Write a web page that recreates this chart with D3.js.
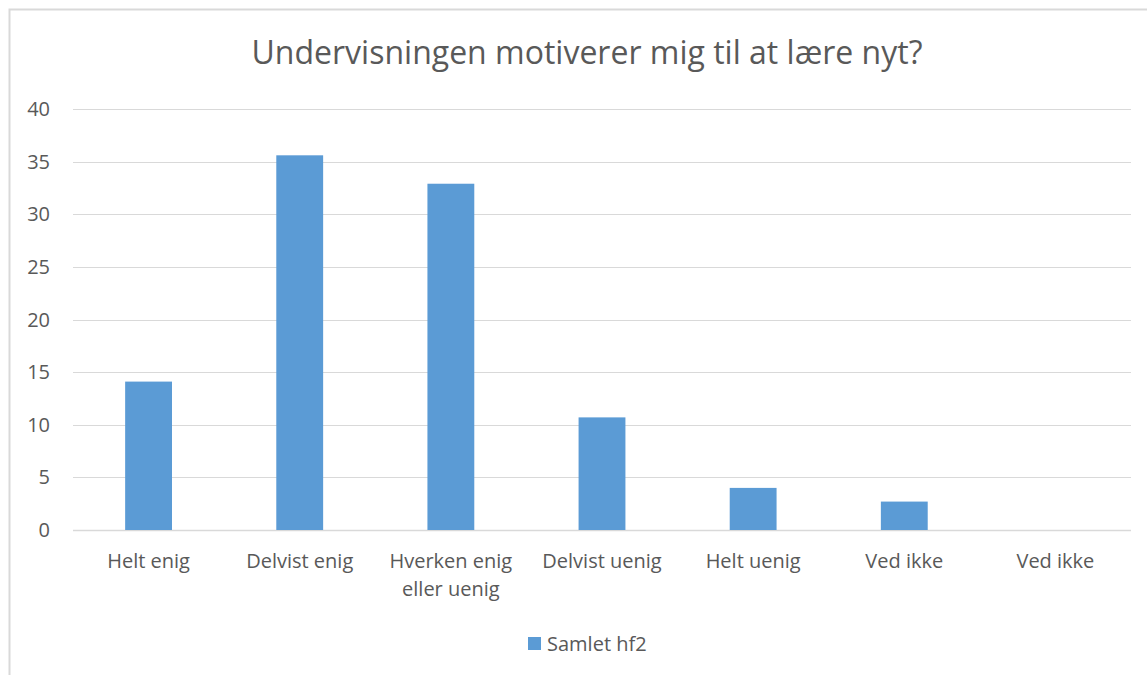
<!DOCTYPE html>
<html>
<head>
<meta charset="utf-8">
<script src="https://cdn.jsdelivr.net/npm/d3@7"></script>
<style>
  body { margin: 0; background: #fff; }
  text { font-family: "Open Sans", sans-serif; fill: #595959; }
</style>
</head>
<body>
<div id="chart"></div>
<script>
let categories = ["Helt enig", "Delvist enig", "Hverken enig eller uenig", "Delvist uenig", "Helt uenig", "Ved ikke", "Ved ikke"]
let values = [14.1, 35.6, 32.9, 10.7, 4.0, 2.7, 0]
let y_ticks = [0, 5, 10, 15, 20, 25, 30, 35, 40]
let series_name = "Samlet hf2"
let title = "Undervisningen motiverer mig til at lære nyt?"

let width = 1147
let height = 675
let bar_color = "#5B9BD5"
let grid_color = "#D9D9D9"

let svg = d3.select("#chart").append("svg")
    .attr("width", width)
    .attr("height", height)

// chart frame (runs off the right and bottom edge like the screenshot)
svg.append("rect")
    .attr("x", 9.5)
    .attr("y", 9.5)
    .attr("width", width + 20)
    .attr("height", height + 20)
    .style("fill", "none")
    .style("stroke", grid_color)
    .style("stroke-width", 2)

svg.append("text")
    .attr("x", 587)
    .attr("y", 64)
    .attr("text-anchor", "middle")
    .style("font-size", "32px")
    .text(title)

let x = d3.scaleBand()
    .domain(d3.range(categories.length))
    .range([73, 1131])
    .paddingInner(0.69)
    .paddingOuter(0.345)

let y = d3.scaleLinear()
    .domain([0, 40])
    .range([530, 109])

// gridlines
svg.selectAll(".grid")
    .data(y_ticks)
    .enter().append("line")
    .attr("class", "grid")
    .attr("x1", 73)
    .attr("x2", 1131)
    .attr("y1", (d) => Math.round(y(d)) + 0.5)
    .attr("y2", (d) => Math.round(y(d)) + 0.5)
    .style("stroke", grid_color)
    .style("stroke-width", (d) => d == 0 ? 1.5 : 1)

// y labels
svg.selectAll(".ylab")
    .data(y_ticks)
    .enter().append("text")
    .attr("class", "ylab")
    .attr("x", 50)
    .attr("y", (d) => y(d) + 7)
    .attr("text-anchor", "end")
    .style("font-size", "20px")
    .text((d) => d)

// bars
svg.selectAll(".bar")
    .data(values)
    .enter().append("rect")
    .attr("class", "bar")
    .attr("x", (d, i) => x(i))
    .attr("width", x.bandwidth())
    .attr("y", (d) => y(d))
    .attr("height", (d) => y(0) - y(d))
    .style("fill", bar_color)

// category labels, wrapped like the original
let wrap_label = function(label) {
    if (label.length > 15) {
        let words = label.split(" ")
        return [words.slice(0, 2).join(" "), words.slice(2).join(" ")]
    }
    return [label]
}

let labels = svg.selectAll(".xlab")
    .data(categories)
    .enter().append("text")
    .attr("class", "xlab")
    .attr("text-anchor", "middle")
    .style("font-size", "20px")

labels.each(function(d, i) {
    let lines = wrap_label(d)
    let cx = x(i) + x.bandwidth() / 2
    lines.forEach((line, k) => {
        d3.select(this).append("tspan")
            .attr("x", cx)
            .attr("y", 568 + k * 28)
            .text(line)
    })
})

// legend
svg.append("rect")
    .attr("x", 528)
    .attr("y", 637)
    .attr("width", 13)
    .attr("height", 13)
    .style("fill", bar_color)

svg.append("text")
    .attr("x", 547)
    .attr("y", 651)
    .style("font-size", "20px")
    .text(series_name)
</script>
</body>
</html>
